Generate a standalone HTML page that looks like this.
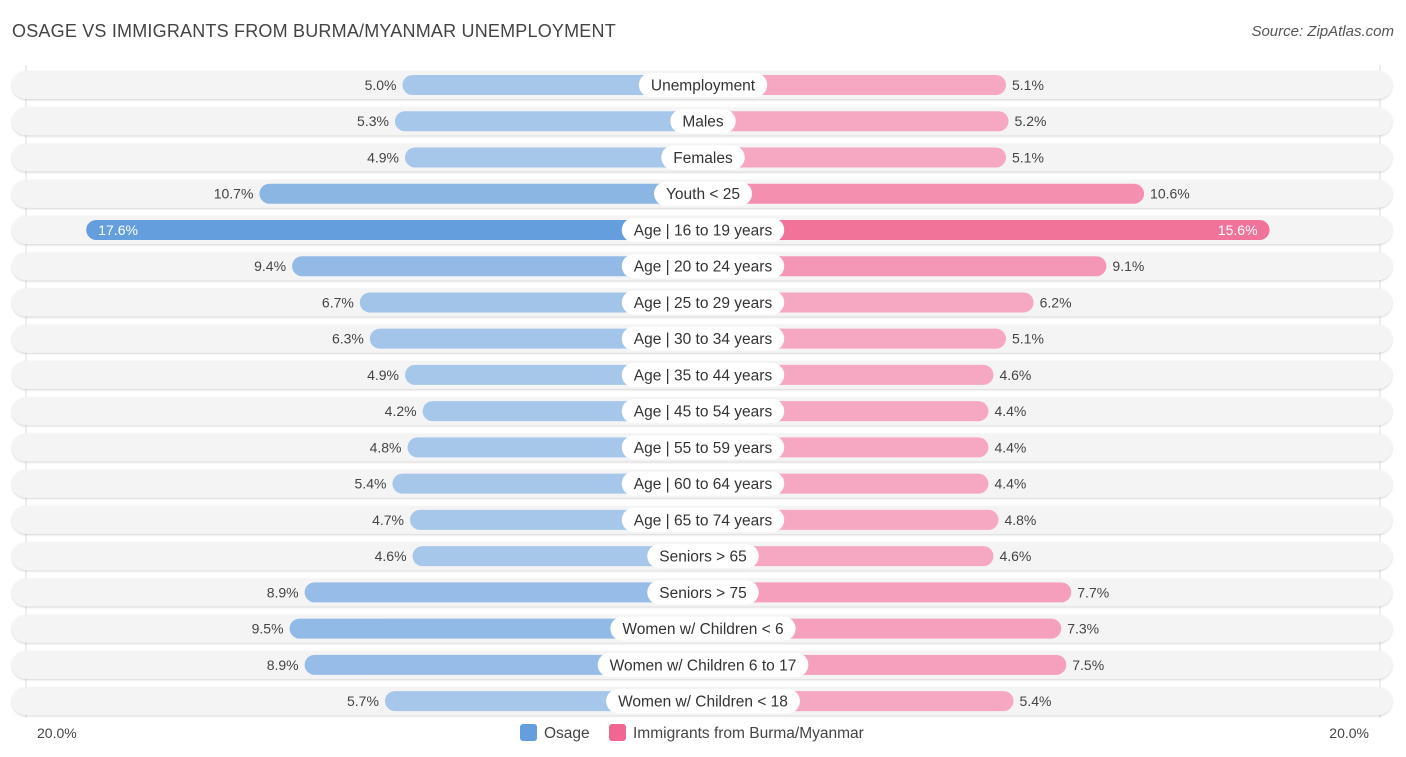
<!DOCTYPE html>
<html><head><meta charset="utf-8">
<style>
body{margin:0;width:1406px;height:757px;background:#fff;font-family:"Liberation Sans",sans-serif;overflow:hidden;position:relative}
#title{position:absolute;left:12px;top:21px;font-size:18px;color:#444;letter-spacing:0.2px}
#source{position:absolute;right:12px;top:23px;font-size:15px;color:#555;font-style:italic}
</style></head><body>
<div id="title">OSAGE VS IMMIGRANTS FROM BURMA/MYANMAR UNEMPLOYMENT</div>
<div id="source">Source: ZipAtlas.com</div>
<svg id="chart" width="1406" height="757" style="position:absolute;left:0;top:0">
<defs><filter id="sh" x="-5%" y="-30%" width="110%" height="160%"><feDropShadow dx="0" dy="1" stdDeviation="1" flood-color="#000" flood-opacity="0.18"/></filter></defs>
</svg>
<script>
const categories=["Unemployment","Males","Females","Youth < 25","Age | 16 to 19 years","Age | 20 to 24 years","Age | 25 to 29 years","Age | 30 to 34 years","Age | 35 to 44 years","Age | 45 to 54 years","Age | 55 to 59 years","Age | 60 to 64 years","Age | 65 to 74 years","Seniors > 65","Seniors > 75","Women w/ Children < 6","Women w/ Children 6 to 17","Women w/ Children < 18"];
const osage=[5.0,5.3,4.9,10.7,17.6,9.4,6.7,6.3,4.9,4.2,4.8,5.4,4.7,4.6,8.9,9.5,8.9,5.7];
const burma=[5.1,5.2,5.1,10.6,15.6,9.1,6.2,5.1,4.6,4.4,4.4,4.4,4.8,4.6,7.7,7.3,7.5,5.4];
const axisMax=20;
const NS="http://www.w3.org/2000/svg";
const svg=document.getElementById('chart');
const cx=703,off=175,k=25.1,y0=85,dy=36.24;
const maxV=Math.max(...osage,...burma);
function xL(v){return cx-off-k*v}
function xR(v){return cx+off+k*v}
function yR(i){return y0+i*dy}
function mix(a,b,t){return 'rgb('+a.map((c,j)=>Math.round(c+(b[j]-c)*t)).join(',')+')'}
function el(t,a){const e=document.createElementNS(NS,t);for(const n in a)e.setAttribute(n,a[n]);svg.appendChild(e);return e}
// gridlines
const g1=el('line',{x1:xL(axisMax),x2:xL(axisMax),y1:65,y2:718,stroke:'#ddd'});


const g2=el('line',{x1:xR(axisMax),x2:xR(axisMax),y1:65,y2:718,stroke:'#ddd'});


categories.forEach((c,i)=>{
  const y=yR(i);
  const bg=el('rect',{x:12,y:y-14,width:1380,height:28,rx:14,fill:'#f4f4f4',filter:'url(#sh)'});
  
  
  const to=Math.max(0,(osage[i]-6)/(maxV-6)), tb=Math.max(0,(burma[i]-6)/(maxV-6));
  const bl=el('rect',{x:xL(osage[i]),y:y-10,width:cx-xL(osage[i]),height:20,rx:10,fill:mix([166,198,234],[100,158,220],to)});
  
  
  const br=el('rect',{x:cx,y:y-10,width:xR(burma[i])-cx,height:20,rx:10,fill:mix([246,168,195],[240,104,146],tb)});
  
  
  const inL=osage[i]>15, inR=burma[i]>15;
  const tl=el('text',{x:inL?xL(osage[i])+12:xL(osage[i])-6,y:y+5,'font-size':14,fill:inL?'#fff':'#444','text-anchor':inL?'start':'end'});
  tl.textContent=osage[i].toFixed(1)+'%';
  
  
  const tr=el('text',{x:inR?xR(burma[i])-12:xR(burma[i])+6,y:y+5,'font-size':14,fill:inR?'#fff':'#444','text-anchor':inR?'end':'start'});
  tr.textContent=burma[i].toFixed(1)+'%';
  
  
  const lt=el('text',{x:cx,y:y+5.5,'font-size':15.5,fill:'#333','text-anchor':'middle'});
  lt.textContent=c;
  const w=lt.getComputedTextLength()+24;
  const lb=el('rect',{x:cx-w/2,y:y-12,width:w,height:24,rx:12,fill:'#fff'});
  svg.insertBefore(lb,lt);
  
  
  
  
});
const a1=el('text',{x:37,y:738,'font-size':14,fill:'#444'});a1.textContent=axisMax.toFixed(1)+'%';


const a2=el('text',{x:1369,y:738,'font-size':14,fill:'#444','text-anchor':'end'});a2.textContent=axisMax.toFixed(1)+'%';


const s1=el('rect',{x:520,y:724,width:17,height:17,rx:3,fill:'#649edc'});


const l1=el('text',{x:544,y:738,'font-size':15.5,fill:'#444'});l1.textContent='Osage';


const s2=el('rect',{x:609,y:724,width:17,height:17,rx:3,fill:'#f06892'});


const l2=el('text',{x:633,y:738,'font-size':15.5,fill:'#444'});l2.textContent='Immigrants from Burma/Myanmar';


</script>
</body></html>
